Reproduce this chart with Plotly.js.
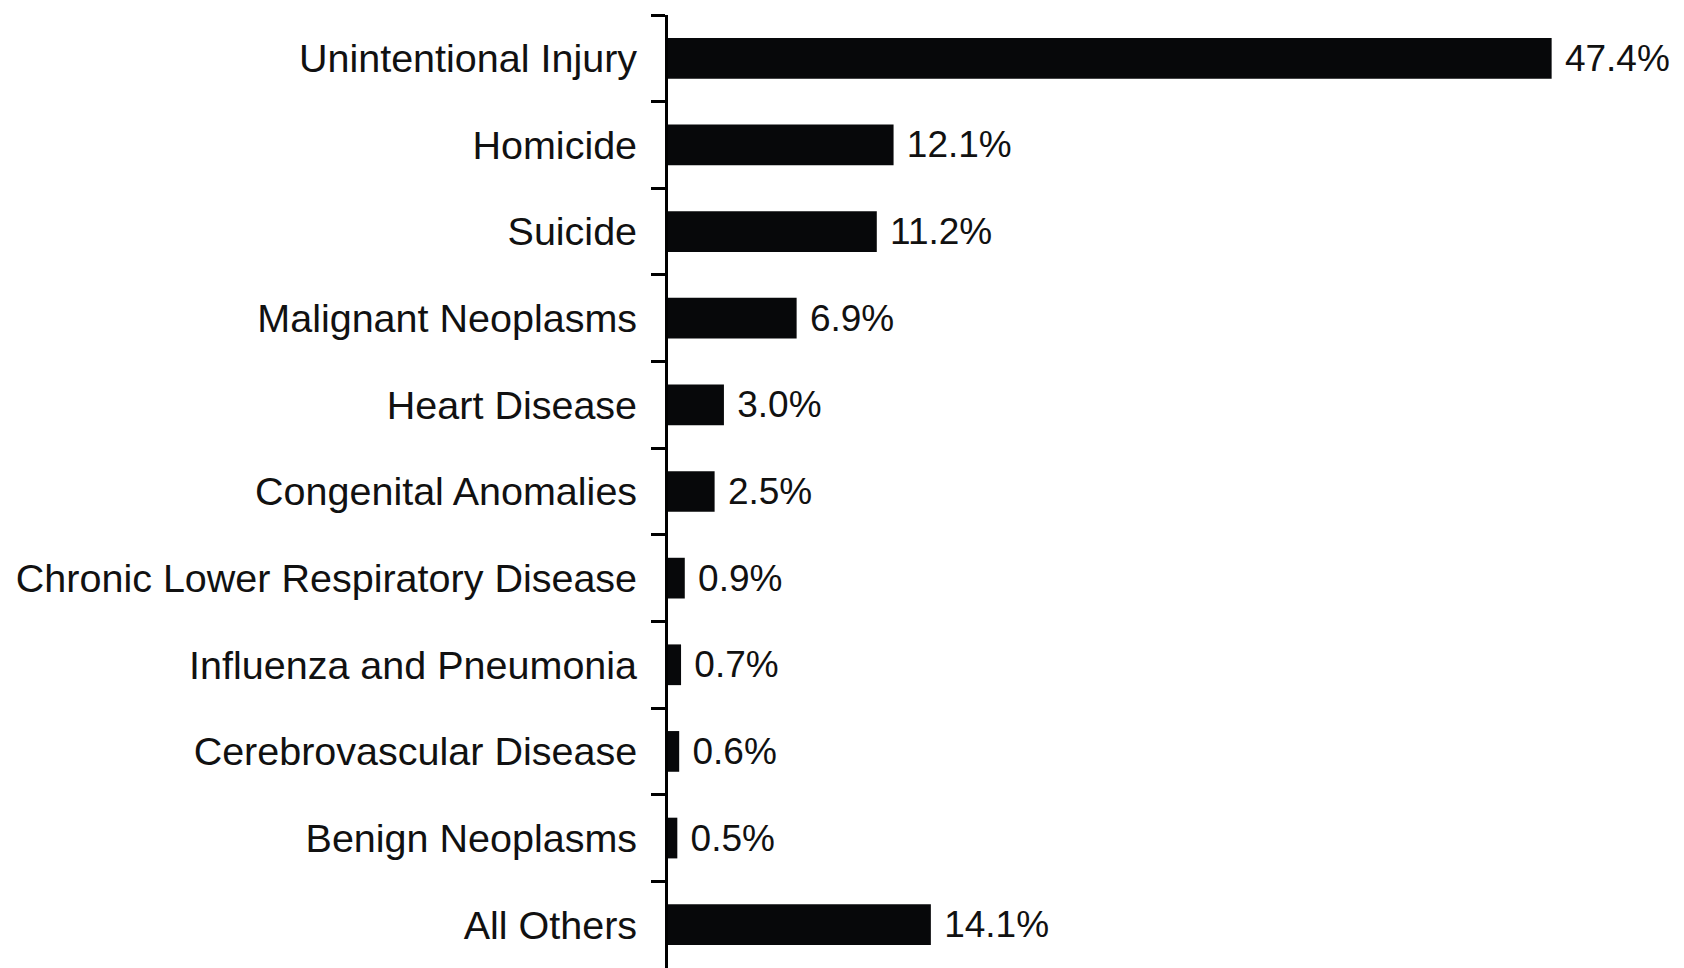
<!DOCTYPE html>
<html>
<head>
<meta charset="utf-8">
<script src="https://cdn.plot.ly/plotly-3.0.1.min.js"></script>
<style>html,body{margin:0;padding:0;background:#fff;}#chart{width:1684px;height:968px;}</style>
</head>
<body>
<div id="chart"></div>
<script>
const categories = [
  "Unintentional Injury",
  "Homicide",
  "Suicide",
  "Malignant Neoplasms",
  "Heart Disease",
  "Congenital Anomalies",
  "Chronic Lower Respiratory Disease",
  "Influenza and Pneumonia",
  "Cerebrovascular Disease",
  "Benign Neoplasms",
  "All Others"
];
const percents = [47.4, 12.1, 11.2, 6.9, 3.0, 2.5, 0.9, 0.7, 0.6, 0.5, 14.1];

const trace = {
  type: 'bar',
  orientation: 'h',
  y: categories,
  x: percents,
  marker: {color: '#07080a', line: {width: 0}},
  texttemplate: '\u00a0%{x:.1f}%',
  textposition: 'outside',
  constraintext: 'none',
  cliponaxis: false,
  textfont: {family: '"Liberation Sans", Arial, sans-serif', size: 37, color: '#111'},
  hoverinfo: 'none'
};

const layout = {
  width: 1684,
  height: 968,
  margin: {l: 668, r: 0, t: 15, b: 0, pad: 0},
  paper_bgcolor: '#ffffff',
  plot_bgcolor: '#ffffff',
  showlegend: false,
  bargap: 0.53,
  font: {family: '"Liberation Sans", Arial, sans-serif', color: '#111'},
  xaxis: {
    range: [0, 54.5],
    visible: false,
    showgrid: false,
    zeroline: false,
    fixedrange: true
  },
  yaxis: {
    type: 'category',
    autorange: 'reversed',
    showline: true,
    linecolor: '#000',
    linewidth: 3,
    ticks: 'outside',
    tickson: 'boundaries',
    ticklen: 14,
    tickwidth: 3,
    tickcolor: '#000',
    ticklabelstandoff: 20,
    tickfont: {family: '"Liberation Sans", Arial, sans-serif', size: 39.5, color: '#111'},
    showgrid: false,
    zeroline: false,
    fixedrange: true
  }
};

Plotly.newPlot('chart', [trace], layout, {displayModeBar: false, staticPlot: true});
</script>
</body>
</html>
